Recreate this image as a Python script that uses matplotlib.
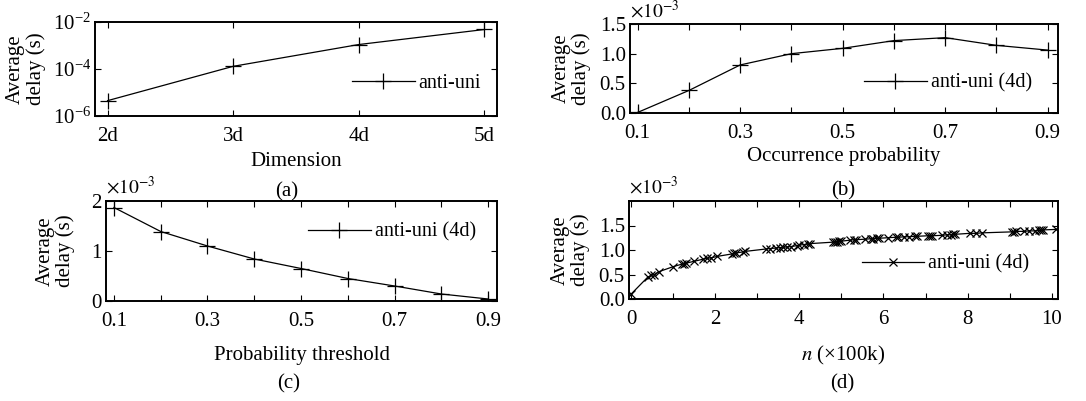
import numpy as np
import matplotlib
matplotlib.use('Agg')
import matplotlib.pyplot as plt
from matplotlib.ticker import MultipleLocator, FixedLocator, NullLocator

plt.rcParams['font.family'] = ['Liberation Serif', 'DejaVu Serif']
plt.rcParams['mathtext.fontset'] = 'stix'
plt.rcParams['font.size'] = 15
plt.rcParams['xtick.direction'] = 'in'
plt.rcParams['ytick.direction'] = 'in'
plt.rcParams['xtick.top'] = True
plt.rcParams['ytick.right'] = True

# (a) delay vs dimension
dims = [2, 3, 4, 5]
dim_labels = ['2d', '3d', '4d', '5d']
delay_a = [4.5e-6, 1.3e-4, 1.1e-3, 4.8e-3]

# (b) delay vs occurrence probability (x1e-3 s)
occ_p = [0.1, 0.2, 0.3, 0.4, 0.5, 0.6, 0.7, 0.8, 0.9]
delay_b = [0.01, 0.38, 0.81, 1.00, 1.09, 1.22, 1.27, 1.14, 1.06]

# (c) delay vs probability threshold (x1e-3 s)
thr = [0.1, 0.2, 0.3, 0.4, 0.5, 0.6, 0.7, 0.8, 0.9]
delay_c = [1.87, 1.39, 1.10, 0.84, 0.65, 0.45, 0.30, 0.14, 0.04]

# (d) delay vs n (x100k), (x1e-3 s)
n_vals = [0.0, 0.40, 0.48, 0.55, 0.67, 1.0, 1.2, 1.26, 1.3, 1.5, 1.7, 1.8, 1.9,
          2.05, 2.4, 2.45, 2.5, 2.65, 2.7, 3.2, 3.3, 3.45, 3.55, 3.6, 3.7, 3.8,
          3.95, 4.0, 4.1, 4.2, 4.25, 4.8, 4.85, 4.9, 4.95, 5.0, 5.2, 5.3, 5.35,
          5.55, 5.7, 5.75, 5.85, 5.9, 6.1, 6.3, 6.35, 6.5, 6.6, 6.75, 6.8,
          7.05, 7.1, 7.15, 7.4, 7.5, 7.6, 7.65, 7.7, 8.05, 8.2, 8.35,
          9.05, 9.1, 9.15, 9.35, 9.45, 9.6, 9.7, 9.75, 9.8, 10.1]
delay_d = [0.10, 0.45, 0.48, 0.50, 0.56, 0.66, 0.71, 0.72, 0.73, 0.77, 0.81, 0.83, 0.84,
           0.87, 0.92, 0.93, 0.94, 0.96, 0.97, 1.02, 1.03, 1.04, 1.05, 1.06, 1.06, 1.07,
           1.09, 1.10, 1.11, 1.12, 1.13, 1.16, 1.17, 1.17, 1.18, 1.18, 1.20, 1.21, 1.21,
           1.22, 1.23, 1.23, 1.24, 1.24, 1.25, 1.26, 1.26, 1.27, 1.27, 1.28, 1.28,
           1.29, 1.29, 1.29, 1.30, 1.31, 1.31, 1.32, 1.32, 1.34, 1.34, 1.35,
           1.37, 1.37, 1.38, 1.38, 1.39, 1.39, 1.40, 1.40, 1.41, 1.42]

W, H = 1086, 401
fig = plt.figure(figsize=(W / 100, H / 100), dpi=100)


def box(l, r, t, b):
    return [l / W, 1 - b / H, (r - l) / W, (b - t) / H]


def style(ax):
    for s in ax.spines.values():
        s.set_linewidth(1.4)
    ax.tick_params(which='both', length=4, width=0.8, labelsize=15)
    ax.tick_params(axis='x', which='both', pad=8)
    ax.tick_params(axis='y', which='both', pad=3)


def legend(ax, x, y):
    ax.legend(loc='center left', bbox_to_anchor=(x, y), frameon=False,
              borderaxespad=0, borderpad=0, handlelength=3.1, handletextpad=0.2,
              fontsize=14.5)


def ylab(ax, pad):
    ax.set_ylabel('Average\ndelay (s)', labelpad=pad, linespacing=1.05)


def offset(ax):
    ax.text(0.0, 1.03, r'$\times10^{-3}$', transform=ax.transAxes, fontsize=14,
            ha='left', va='bottom')


# (a)
ax = fig.add_axes(box(95, 497, 22, 116))
ax.semilogy(dims, delay_a, color='black', lw=0.9, marker='+', ms=12, mew=0.9,
            label='anti-uni')
ax.set_xlim(1.9, 5.1)
ax.set_ylim(1e-6, 1e-2)
ax.yaxis.set_major_locator(FixedLocator([1e-6, 1e-4, 1e-2]))
ax.yaxis.set_minor_locator(NullLocator())
ax.set_xticks(dims)
ax.set_xticklabels(dim_labels)
ax.set_xlabel('Dimension', labelpad=4)
ylab(ax, 5)
style(ax)
legend(ax, 0.64, 0.35)
fig.text(287 / W, 1 - 192 / H, '(a)', ha='center', va='center', fontsize=15)

# (b)
ax = fig.add_axes(box(630, 1058, 24, 113))
ax.plot(occ_p, delay_b, color='black', lw=0.9, marker='+', ms=12, mew=0.9,
        label='anti-uni (4d)')
ax.set_xlim(0.085, 0.92)
ax.set_ylim(0, 1.5)
ax.set_xticks([0.1, 0.3, 0.5, 0.7, 0.9])
ax.xaxis.set_minor_locator(MultipleLocator(0.1))
ax.set_yticks([0, 0.5, 1.0, 1.5])
ax.set_yticklabels(['0.0', '0.5', '1.0', '1.5'])
ax.set_xlabel('Occurrence probability', labelpad=3)
ylab(ax, 6)
offset(ax)
style(ax)
legend(ax, 0.547, 0.337)
fig.text(843 / W, 1 - 191 / H, '(b)', ha='center', va='center', fontsize=15)

# (c)
ax = fig.add_axes(box(106, 497, 201, 301))
ax.plot(thr, delay_c, color='black', lw=0.9, marker='+', ms=12, mew=0.9,
        label='anti-uni (4d)')
ax.set_xlim(0.083, 0.919)
ax.set_ylim(0, 2)
ax.set_xticks([0.1, 0.3, 0.5, 0.7, 0.9])
ax.xaxis.set_minor_locator(MultipleLocator(0.1))
ax.set_yticks([0, 1, 2])
ax.set_xlabel('Probability threshold', labelpad=11)
ylab(ax, 12)
offset(ax)
style(ax)
legend(ax, 0.517, 0.69)
fig.text(289 / W, 1 - 384 / H, '(c)', ha='center', va='center', fontsize=15)

# (d)
ax = fig.add_axes(box(629, 1058, 201, 299))
ax.plot(n_vals, delay_d, color='black', lw=0.9, marker='x', ms=6, mew=0.9,
        label='anti-uni (4d)')
ax.set_xlim(-0.05, 10.15)
ax.set_ylim(0, 2)
ax.set_xticks([0, 2, 4, 6, 8, 10])
ax.xaxis.set_minor_locator(MultipleLocator(1))
ax.set_yticks([0, 0.5, 1.0, 1.5])
ax.set_yticklabels(['0.0', '0.5', '1.0', '1.5'])
ax.set_xlabel(r'$n$ (×100k)', labelpad=11)
ylab(ax, 6)
offset(ax)
style(ax)
legend(ax, 0.543, 0.357)
fig.text(842 / W, 1 - 384 / H, '(d)', ha='center', va='center', fontsize=15)

fig.savefig('out.png', dpi=100, facecolor='white')
